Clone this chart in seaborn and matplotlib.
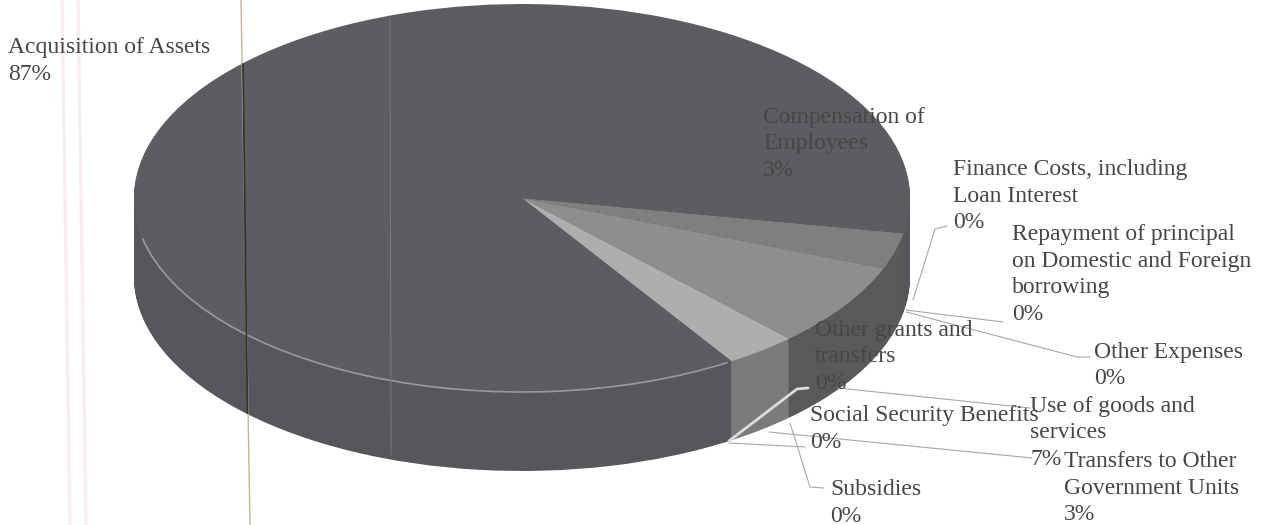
import numpy as np
import matplotlib
matplotlib.use('Agg')
import matplotlib.pyplot as plt
from matplotlib.patches import Arc
import seaborn as sns

# clockwise from the right hand edge of the pie
categories = ['Compensation of\nEmployees', 'Finance Costs, including\nLoan Interest',
              'Repayment of principal\non Domestic and Foreign\nborrowing', 'Other Expenses',
              'Other grants and\ntransfers', 'Use of goods and\nservices',
              'Social Security Benefits', 'Transfers to Other\nGovernment Units',
              'Subsidies', 'Acquisition of Assets']
shares = [3, 0, 0, 0, 0, 7, 0, 3, 0, 87]

top_colors = ['#7f7f7f', '#808080', '#808080', '#808080', '#808080',
              '#8e8e8e', '#8e8e8e', '#aeaeae', '#aeaeae', '#5d5d61']
side_colors = ['#59595b', '#59595b', '#59595b', '#59595b', '#59595b',
               '#59595b', '#59595b', '#7b7b7b', '#7b7b7b', '#57575b']

# label anchor (left, top) in image pixels
label_pos = [(763, 107), (953, 159), (1012, 224), (1094, 342), (815, 320),
             (1030, 396), (810, 405), (1064, 451), (830, 479), (8, 37)]
line_pitch = 26.5

# leader lines in image pixels
leaders = [
    [(913, 300), (935, 229), (947, 226)],
    [(906, 310), (1003, 322)],
    [(906, 312), (1077, 357), (1090, 357)],
    [(838, 388), (1030, 408)],
    [(729, 443), (805, 447)],
    [(769, 432), (1032, 458)],
    [(790, 423), (810, 487), (824, 488)],
]

W, H = 1264, 525
cx, cy = 522, 198       # pie centre, pixels
rx, ry = 388, 194       # top ellipse radii, pixels
depth = 79              # rim height, pixels
start = -10.5

sns.set_theme(style='white')
plt.rcParams['font.family'] = ['Liberation Serif', 'DejaVu Serif']

fig = plt.figure(figsize=(W / 100, H / 100), dpi=100, facecolor='white')
ax = fig.add_axes([0, 0, 1, 1])

# rim: the same pie stacked upwards, then the top
for off in np.arange(depth, 0, -1.0):
    ax.pie(shares, colors=side_colors, startangle=start, counterclock=False, radius=1,
           center=(0, -off / ry), wedgeprops={'linewidth': 0})
ax.pie(shares, colors=top_colors, startangle=start, counterclock=False, radius=1,
       center=(0, 0), wedgeprops={'linewidth': 0})

ax.set_aspect('auto')
ax.set_xlim(-cx / rx, (W - cx) / rx)
ax.set_ylim((cy - H) / ry, cy / ry)
ax.add_patch(Arc((0, 0), 2, 2, theta1=-168, theta2=-58, color='#9a9a9c', lw=1.2))

over = fig.add_axes([0, 0, 1, 1], facecolor='none')
over.set_xlim(0, W)
over.set_ylim(H, 0)
over.axis('off')

# scan marks on the page
for x0 in [62, 78]:
    over.plot([x0, x0 + 8], [0, H], color='#f6eef2', lw=2.5, zorder=1)
over.plot([241, 250], [0, H], color='#bfb3a8', lw=1, zorder=1)
over.plot([243, 247.5], [64, 413], color='#33332c', lw=1.3, zorder=2)
over.plot([390, 391], [20, 455], color='#77777b', lw=0.8, zorder=2)

for pts in leaders:
    xs, ys = zip(*pts)
    over.plot(xs, ys, color='#a8a8a8', lw=0.8, zorder=3)
over.plot([729, 797, 808], [441, 389, 388], color='#dcdcdc', lw=2, zorder=3)

# one text per line, the labels sit tightly against each other
for name, val, (x, y) in zip(categories, shares, label_pos):
    lines = name.split('\n') + ['%d%%' % val]
    for i, line in enumerate(lines):
        over.text(x, y + i * line_pitch, line, ha='left', va='top', fontsize=17,
                  color='#464646', zorder=4)

plt.savefig('out.png', dpi=100)
plt.close()
